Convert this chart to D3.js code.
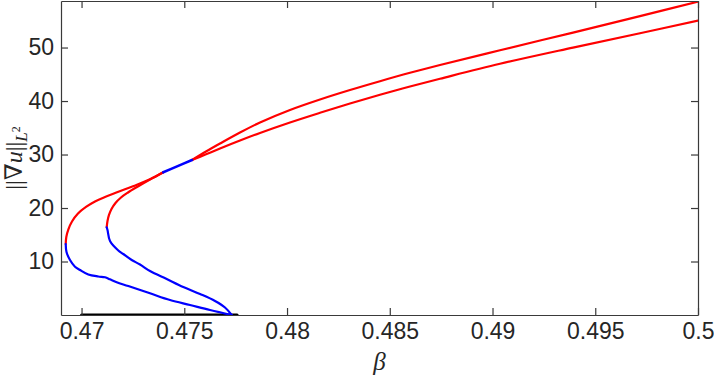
<!DOCTYPE html>
<html>
<head>
<meta charset="utf-8">
<script src="https://cdn.jsdelivr.net/npm/d3@7"></script>
<style>
  body { margin: 0; background: #fff; }
  .axis text { font-family: "Liberation Sans", Arial, Helvetica, sans-serif; font-size: 23px; fill: #262626; }
  .axis path, .axis line { stroke: #3a3a3a; stroke-width: 1.2; }
</style>
</head>
<body>
<svg class="chart" width="714" height="376"></svg>
<script>
// tick values / labels
const xTicks = [0.47, 0.475, 0.48, 0.485, 0.49, 0.495, 0.5],
      xTickLabels = ["0.47", "0.475", "0.48", "0.485", "0.49", "0.495", "0.5"],
      yTicks = [10, 20, 30, 40, 50],
      yTickLabels = ["10", "20", "30", "40", "50"]

// trivial branch along the axis
const blackBeta = [0.47, 0.47757],
      blackVal  = [0, 0]

// outer branch: blue from the bottom up to the turning point
const outerBlueBeta = [0.477307, 0.476251, 0.475278, 0.474305, 0.473331, 0.472275, 0.471711, 0.471385, 0.471141, 0.470815, 0.470329, 0.469925, 0.469681, 0.469438, 0.469268, 0.469229],
      outerBlueVal  = [0, 0.93, 1.87, 2.80, 4.06, 5.42, 6.11, 6.67, 7.05, 7.20, 7.57, 8.41, 9.03, 10.28, 11.78, 13.27]

// outer branch: red from the turning point up to the fold
const outerRedBeta = [0.469229, 0.469258, 0.469355, 0.469535, 0.469827, 0.470217, 0.470655, 0.471141, 0.471725, 0.472504, 0.473331, 0.473978],
      outerRedVal  = [13.27, 14.58, 15.98, 17.48, 18.98, 20.20, 21.22, 22.06, 22.94, 24.08, 25.37, 26.68]

// inner branch: blue from the bottom up to its turning point
const innerBlueBeta = [0.477307, 0.476981, 0.476495, 0.475765, 0.474952, 0.474144, 0.473331, 0.472845, 0.472441, 0.472032, 0.471789, 0.471385, 0.471263, 0.471224],
      innerBlueVal  = [0, 1.40, 2.62, 3.93, 5.23, 6.73, 8.22, 9.44, 10.28, 11.40, 12.06, 13.83, 15.89, 16.40]

// inner branch: red up to the fold
const innerRedBeta = [0.471224, 0.471263, 0.471336, 0.471458, 0.471652, 0.471920, 0.472261, 0.472699, 0.473331, 0.473978],
      innerRedVal  = [16.40, 17.57, 18.70, 19.82, 20.94, 21.97, 22.90, 23.93, 25.33, 26.68]

// short blue piece near the fold
const foldBeta = [0.473978, 0.474677, 0.475375],
      foldVal  = [26.68, 27.83, 28.98]

// upper red continuation
const upperBeta = [0.475375, 0.476057, 0.476738, 0.477711, 0.478684, 0.480144, 0.481604, 0.483064, 0.484524, 0.485984, 0.487444, 0.490364, 0.493917, 0.497177, 0.5],
      upperVal  = [28.98, 30.57, 32.06, 34.12, 35.99, 38.33, 40.29, 42.06, 43.71, 45.28, 46.74, 49.50, 52.80, 55.88, 58.57]

// lower red continuation
const lowerBeta = [0.475375, 0.476057, 0.476738, 0.477711, 0.478684, 0.480144, 0.481604, 0.483064, 0.484524, 0.485984, 0.487444, 0.490364, 0.493917, 0.497177, 0.5],
      lowerVal  = [28.98, 30.04, 31.13, 32.62, 34.03, 35.99, 37.80, 39.54, 41.17, 42.72, 44.16, 46.96, 49.99, 52.68, 55.02]

const margin = { top: 1, right: 16, bottom: 61, left: 61 },
      width = 714 - margin.left - margin.right,
      height = 376 - margin.top - margin.bottom

var chart = d3.select(".chart")

var x = d3.scaleLinear().domain([0.469, 0.5]).range([0, width])
var y = d3.scaleLinear().domain([0, 58.7]).range([height, 0])

var g = chart.append("g")
  .attr("transform", "translate(" + margin.left + "," + margin.top + ")")

chart.append("defs").append("clipPath").attr("id", "clip")
  .append("rect").attr("x", 0).attr("y", 0).attr("width", width).attr("height", height)

var line = d3.line()
  .x(function(d) { return x(d[0]) })
  .y(function(d) { return y(d[1]) })
  .curve(d3.curveCatmullRom.alpha(0.5))

function pts(b, v) { return b.map(function(d, i) { return [d, v[i]] }) }

var plot = g.append("g").attr("clip-path", "url(#clip)")

function draw(b, v, color, w) {
  plot.append("path")
    .datum(pts(b, v))
    .attr("fill", "none")
    .attr("stroke", color)
    .attr("stroke-width", w)
    .attr("stroke-linecap", "round")
    .attr("d", line)
}

draw(blackBeta, blackVal, "#000", 3)
draw(outerRedBeta, outerRedVal, "#ff0000", 2.2)
draw(innerRedBeta, innerRedVal, "#ff0000", 2.2)
draw(upperBeta, upperVal, "#ff0000", 2.2)
draw(lowerBeta, lowerVal, "#ff0000", 2.2)
draw(outerBlueBeta, outerBlueVal, "#0000ff", 2.2)
draw(innerBlueBeta, innerBlueVal, "#0000ff", 2.2)
draw(foldBeta, foldVal, "#0000ff", 2.6)

// axes, ticks pointing inward, box all round
g.append("g")
  .attr("class", "axis axis--x")
  .attr("transform", "translate(0," + height + ")")
  .call(d3.axisBottom(x).tickValues(xTicks).tickSizeInner(-7).tickSizeOuter(0).tickPadding(8)
    .tickFormat(function(d, i) { return xTickLabels[i] }))

g.append("g")
  .attr("class", "axis axis--x2")
  .call(d3.axisTop(x).tickValues(xTicks).tickSizeInner(-7).tickSizeOuter(0).tickFormat(""))

g.append("g")
  .attr("class", "axis axis--y")
  .call(d3.axisLeft(y).tickValues(yTicks).tickSizeInner(-7).tickSizeOuter(0).tickPadding(7)
    .tickFormat(function(d, i) { return yTickLabels[i] }))

g.append("g")
  .attr("class", "axis axis--y2")
  .attr("transform", "translate(" + width + ",0)")
  .call(d3.axisRight(y).tickValues(yTicks).tickSizeInner(-7).tickSizeOuter(0).tickFormat(""))

// x label
chart.append("text")
  .attr("x", margin.left + width / 2)
  .attr("y", 370)
  .attr("text-anchor", "middle")
  .attr("fill", "#262626")
  .style("font-family", "'Liberation Serif', 'DejaVu Serif', serif")
  .style("font-style", "italic")
  .style("font-size", "25px")
  .text("β")

// y label ||∇u||_{L^2}
var yl = chart.append("text")
  .attr("transform", "translate(22," + (margin.top + height / 2) + ") rotate(-90)")
  .attr("text-anchor", "middle")
  .attr("fill", "#262626")
  .style("font-family", "'Liberation Serif', 'DejaVu Serif', serif")
  .style("font-size", "24px")
yl.append("tspan").text("||∇")
yl.append("tspan").style("font-style", "italic").text("u")
yl.append("tspan").text("||")
yl.append("tspan").attr("dy", 5).style("font-style", "italic").style("font-size", "17px").text("L")
yl.append("tspan").attr("dy", -7).style("font-size", "12px").text("2")
</script>
</body>
</html>
